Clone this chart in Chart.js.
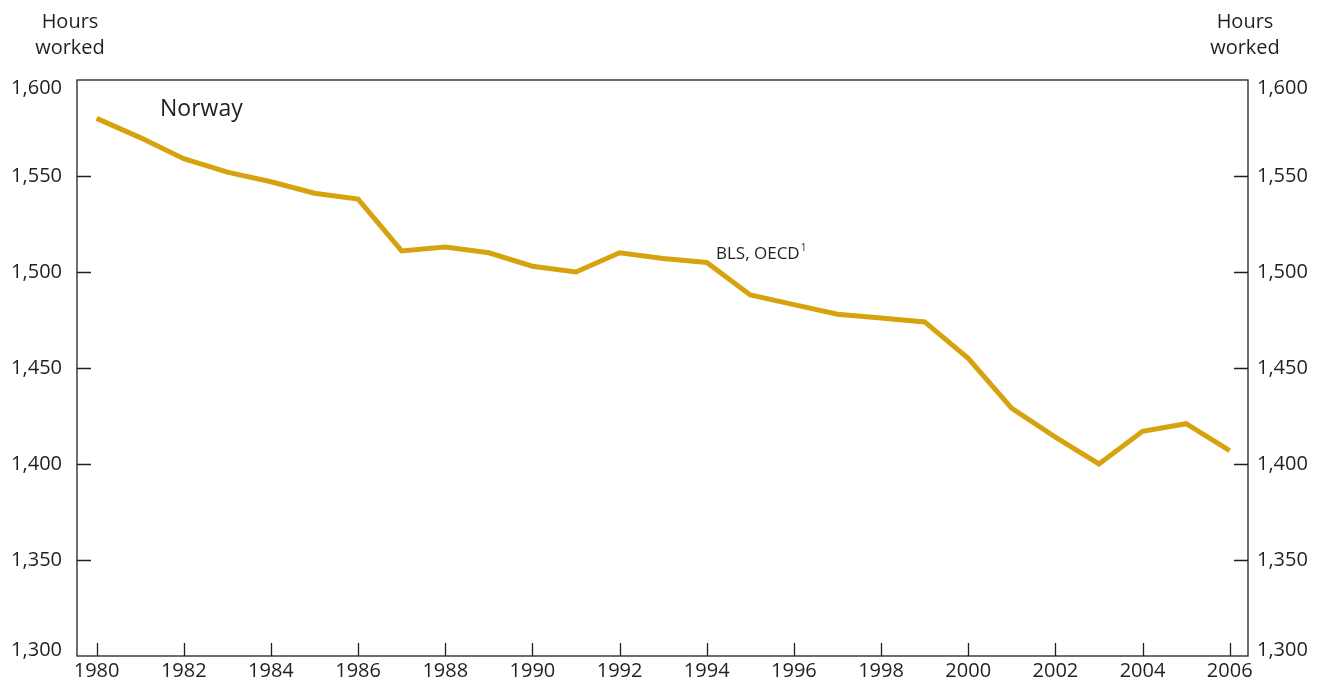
<!DOCTYPE html>
<html>
<head>
<meta charset="utf-8">
<script src="https://cdn.jsdelivr.net/npm/chart.js@4"></script>
<style>
  html, body { margin: 0; padding: 0; background: #fff; }
  #c { display: block; }
</style>
</head>
<body>
<canvas id="c" width="1322" height="684"></canvas>
<script>
const years = [1980,1981,1982,1983,1984,1985,1986,1987,1988,1989,1990,1991,1992,1993,1994,1995,1996,1997,1998,1999,2000,2001,2002,2003,2004,2005,2006];
const hoursWorked = [1580,1570,1559,1552,1547,1541,1538,1511,1513,1510,1503,1500,1510,1507,1505,1488,1483,1478,1476,1474,1455,1429,1414,1400,1417,1421,1407];
const xTickYears = [1980,1982,1984,1986,1988,1990,1992,1994,1996,1998,2000,2002,2004,2006];
const yTickValues = [1300,1350,1400,1450,1500,1550,1600];
const axisTitle = ['Hours', 'worked'];
const countryLabel = 'Norway';
const seriesLabel = 'BLS, OECD';
const seriesNote = '1';

const INK = '#231F20';
const GOLD = '#D6A30F';
const FONT = '"Open Sans", "Noto Sans", sans-serif';
const fmt = v => v.toLocaleString('en-US');

const frame = {
  id: 'frame',
  afterDraw(chart) {
    const ctx = chart.ctx;
    const a = chart.chartArea;
    const x = chart.scales.x, y = chart.scales.y;
    ctx.save();
    ctx.strokeStyle = INK;
    ctx.lineWidth = 1.3;
    ctx.strokeRect(a.left, a.top, a.right - a.left, a.bottom - a.top);
    ctx.beginPath();
    yTickValues.forEach(v => {
      if (v === y.min || v === y.max) return;
      const py = Math.round(y.getPixelForValue(v)) + 0.5;
      ctx.moveTo(a.left, py); ctx.lineTo(a.left + 14, py);
      ctx.moveTo(a.right, py); ctx.lineTo(a.right - 14, py);
    });
    xTickYears.forEach(v => {
      const px = Math.round(x.getPixelForValue(v)) + 0.5;
      ctx.moveTo(px, a.bottom); ctx.lineTo(px, a.bottom - 13);
    });
    ctx.stroke();

    ctx.fillStyle = INK;
    ctx.textBaseline = 'middle';
    ctx.font = '20px ' + FONT;
    [[y.max, 8], [y.min, -6]].forEach(([v, off]) => {
      const py = y.getPixelForValue(v) + off;
      ctx.textAlign = 'right';
      ctx.fillText(fmt(v), a.left - 15, py);
      ctx.textAlign = 'left';
      ctx.fillText(fmt(v), a.right + 9, py);
    });

    ctx.textAlign = 'center';
    ctx.font = '20px ' + FONT;
    ctx.fillText(axisTitle[0], 70, 22);
    ctx.fillText(axisTitle[1], 70, 48);
    ctx.fillText(axisTitle[0], 1245, 22);
    ctx.fillText(axisTitle[1], 1245, 48);

    ctx.textAlign = 'left';
    ctx.font = '23px ' + FONT;
    ctx.fillText(countryLabel, 160, 109);

    ctx.font = '17px ' + FONT;
    ctx.fillText(seriesLabel, 716, 254);
    const w = ctx.measureText(seriesLabel).width;
    ctx.font = '10px ' + FONT;
    ctx.fillText(seriesNote, 716 + w + 1, 248);
    ctx.restore();
  }
};

const valueTicks = (pad) => ({
  color: INK,
  font: { family: FONT, size: 20 },
  padding: pad,
  callback: v => (v === 1300 || v === 1600) ? '' : fmt(v)
});

new Chart(document.getElementById('c'), {
  type: 'line',
  data: {
    datasets: [{
      data: years.map((yr, i) => ({ x: yr, y: hoursWorked[i] })),
      borderColor: GOLD,
      borderWidth: 5,
      pointRadius: 0,
      tension: 0,
      borderJoinStyle: 'miter',
      borderCapStyle: 'butt',
      fill: false
    }]
  },
  options: {
    responsive: false,
    animation: false,
    devicePixelRatio: 1,
    layout: { padding: { top: 80, left: 0, right: 0, bottom: 0 } },
    plugins: { legend: { display: false }, tooltip: { enabled: false }, title: { display: false } },
    scales: {
      x: {
        type: 'linear',
        min: 1979.55,
        max: 2006.42,
        afterBuildTicks(s) { s.ticks = xTickYears.map(v => ({ value: v })); },
        afterFit(s) { s.height = 28; },
        grid: { display: false, drawTicks: false },
        border: { display: false },
        ticks: {
          color: INK,
          font: { family: FONT, size: 20 },
          padding: 3,
          maxRotation: 0,
          autoSkip: false,
          callback: v => String(v)
        }
      },
      y: {
        position: 'left',
        min: 1300,
        max: 1600,
        afterBuildTicks(s) { s.ticks = yTickValues.map(v => ({ value: v })); },
        afterFit(s) { s.width = 77; },
        grid: { display: false, drawTicks: false },
        border: { display: false },
        ticks: valueTicks(15)
      },
      y2: {
        position: 'right',
        min: 1300,
        max: 1600,
        afterBuildTicks(s) { s.ticks = yTickValues.map(v => ({ value: v })); },
        afterFit(s) { s.width = 74; },
        grid: { display: false, drawTicks: false },
        border: { display: false },
        ticks: valueTicks(9)
      }
    }
  },
  plugins: [frame]
});
</script>
</body>
</html>
